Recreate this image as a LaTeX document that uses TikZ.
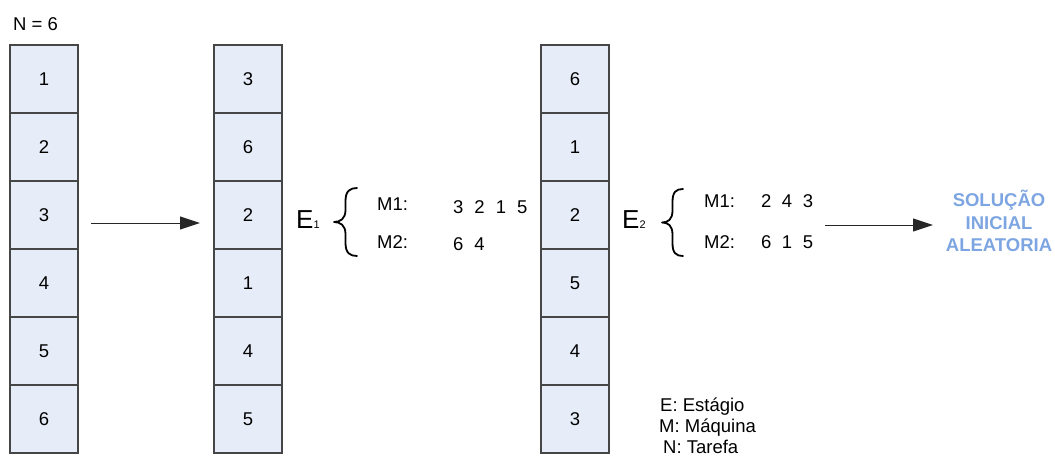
\documentclass[tikz,border=0pt]{standalone}
\usepackage{fontspec}
\setmainfont{Liberation Sans}
\usetikzlibrary{arrows.meta}
\definecolor{cellfill}{RGB}{231,237,248}
\definecolor{cellline}{RGB}{70,70,70}
\definecolor{solblue}{RGB}{125,165,225}
\tikzset{
  cell/.style={draw=cellline,line width=1.3pt,fill=cellfill,minimum width=68pt,minimum height=68pt,inner sep=0pt,font=\fontsize{18.5}{18.5}\selectfont},
  lbl/.style={inner sep=0pt,anchor=base west,font=\fontsize{18.5}{18.5}\selectfont},
  stg/.style={inner sep=0pt,anchor=base west,font=\fontsize{26}{26}\selectfont},
  conn/.style={line width=1pt,draw=black!85,-{Triangle[length=20pt,width=13pt]}},
  curly/.style={line width=1.8pt,line cap=round,line join=round}
}
% brace: left tip x, right x, top y, bottom y
\newcommand{\drawcurly}[4]{%
  \pgfmathsetmacro{\xm}{(#1+#2)/2}%
  \pgfmathsetmacro{\ym}{(#3+#4)/2}%
  \draw[curly] (#2,#3) .. controls (#2-7,#3) and (\xm,#3+3) .. (\xm,#3+13)
    -- (\xm,\ym-12) .. controls (\xm,\ym-3) and (#1+6,\ym) .. (#1,\ym)
    .. controls (#1+6,\ym) and (\xm,\ym+3) .. (\xm,\ym+12)
    -- (\xm,#4-13) .. controls (\xm,#4-3) and (#2-7,#4) .. (#2,#4);%
}
\begin{document}
\begin{tikzpicture}[x=1pt,y=-1pt]
\useasboundingbox (0,0) rectangle (1055,456);
\node[lbl] (n6) at (13,30) {N = 6};
% column 1
\foreach \v [count=\i from 0] in {1,2,3,4,5,6} {
  \node[cell] (a\i) at (44,{79+68*\i}) {\v};
}
% column 2
\foreach \v [count=\i from 0] in {3,6,2,1,4,5} {
  \node[cell] (b\i) at (248,{79+68*\i}) {\v};
}
% column 3
\foreach \v [count=\i from 0] in {6,1,2,5,4,3} {
  \node[cell] (c\i) at (575,{79+68*\i}) {\v};
}
\coordinate (p1) at (91,223);
\coordinate (p2) at (200,223);
\draw[conn] (p1) -- (p2);
% E1
\node[stg] (e1) at (296,228) {E\fontsize{11}{11}\selectfont 1};
\drawcurly{334}{357}{188}{256}
\node[lbl] (e1m1) at (377,210) {M1:};
\node[lbl] (e1m2) at (377,248) {M2:};
\node[lbl] (e1v1) at (453,213) {3\hspace{11pt}2\hspace{11pt}1\hspace{11pt}5};
\node[lbl] (e1v2) at (453,250) {6\hspace{11pt}4};
% E2
\node[stg] (e2) at (622,228) {E\fontsize{11}{11}\selectfont 2};
\drawcurly{662}{683}{189}{256}
\node[lbl] (e2m1) at (704,207) {M1:};
\node[lbl] (e2m2) at (704,248) {M2:};
\node[lbl] (e2v1) at (761,207) {2\hspace{10.5pt}4\hspace{10.5pt}3};
\node[lbl] (e2v2) at (761,248) {6\hspace{10.5pt}1\hspace{10.5pt}5};
\coordinate (q1) at (825,225);
\coordinate (q2) at (933,225);
\draw[conn] (q1) -- (q2);
\node[align=center,inner sep=0pt,anchor=north,text=solblue,font=\bfseries\fontsize{18.5}{22.5}\selectfont] (sol) at (999,190) {SOLUÇÃO\\INICIAL\\ALEATORIA};
% legend
\node[lbl] (le) at (660,411) {E: Estágio};
\node[lbl] (lm) at (659,432) {M: Máquina};
\node[lbl] (ln) at (663,453) {N: Tarefa};
\end{tikzpicture}
\end{document}
